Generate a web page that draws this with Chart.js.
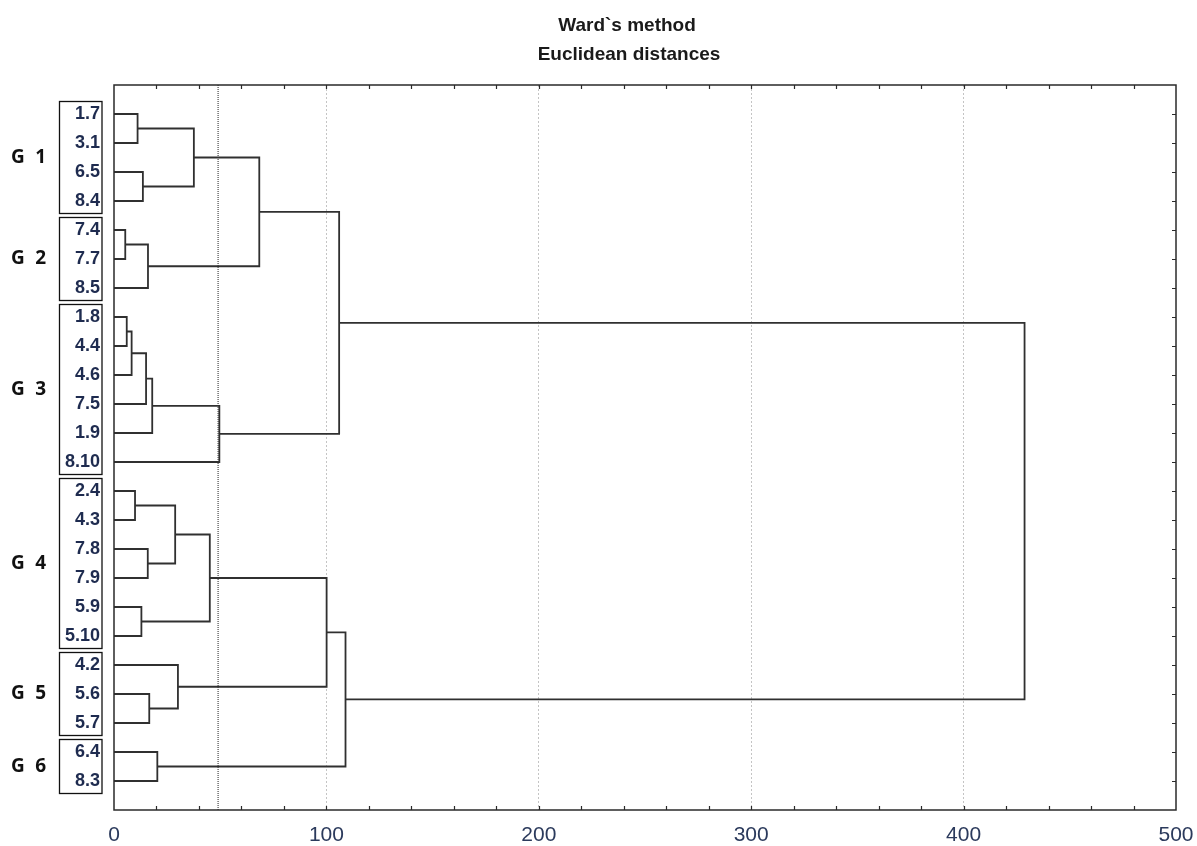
<!DOCTYPE html>
<html><head><meta charset="utf-8">
<script src="https://cdn.jsdelivr.net/npm/chart.js@4.4.1/dist/chart.umd.min.js"></script>
<style>html,body{margin:0;padding:0;background:#fff}#wrap{width:1197px;height:846px}</style>
</head><body><div id="wrap"><canvas id="c" width="1197" height="846"></canvas></div>
<script>
// ---- data ----
const titleLines = ["Ward`s method", "Euclidean distances"];
const leaves = ["1.7","3.1","6.5","8.4","7.4","7.7","8.5","1.8","4.4","4.6","7.5","1.9","8.10",
                "2.4","4.3","7.8","7.9","5.9","5.10","4.2","5.6","5.7","6.4","8.3"];
// linkage: node ids 0..23 are leaves, 24+k is the k-th merge
const linkA      = [4, 7, 25, 13, 0, 17, 2, 26, 24, 15, 20, 31, 22, 27, 19, 28, 37, 35, 39, 40, 42, 43, 44];
const linkB      = [5, 8, 9, 14, 1, 18, 3, 10, 6, 16, 21, 11, 23, 33, 34, 30, 29, 12, 32, 38, 41, 36, 45];
const linkHeight = [5.3, 6.0, 8.3, 9.9, 11.1, 12.9, 13.6, 15.1, 16.0, 15.9, 16.6, 18.0, 20.4, 28.8, 30.1, 37.6, 45.1, 49.6, 68.4, 100.1, 106.0, 109.0, 428.7];
const groupNames = ["G 1","G 2","G 3","G 4","G 5","G 6"];
const groupFirst = [0, 4, 7, 13, 19, 22];
const groupLast  = [3, 6, 12, 18, 21, 23];
const cutLevel = 49;
const xMin = 0, xMax = 500, xMajorStep = 100, xMinorStep = 20;

// ---- build tree segments ----
const nodeX = leaves.map(() => 0);
const nodeY = leaves.map((_, i) => i);
const lineColor = '#303030';
const datasets = [];
for (let k = 0; k < linkA.length; k++) {
  const a = linkA[k], b = linkB[k], h = linkHeight[k];
  datasets.push({
    data: [{x: nodeX[a], y: nodeY[a]}, {x: h, y: nodeY[a]}, {x: h, y: nodeY[b]}, {x: nodeX[b], y: nodeY[b]}],
    borderColor: lineColor, borderWidth: 1.8, pointRadius: 0, showLine: true, fill: false, tension: 0
  });
  nodeX.push(h);
  nodeY.push((nodeY[a] + nodeY[b]) / 2);
}
const yMin = -1, yMax = leaves.length;
datasets.push({
  data: [{x: cutLevel, y: yMin}, {x: cutLevel, y: yMax}],
  borderColor: '#222', borderWidth: 1, borderDash: [1, 1], pointRadius: 0, showLine: true, fill: false
});

const FONT = '"Liberation Sans", Arial, sans-serif';

const decor = {
  id: 'decor',
  afterDraw(chart) {
    const ctx = chart.ctx, ca = chart.chartArea;
    const xs = chart.scales.x, ys = chart.scales.y;
    ctx.save();
    // frame
    ctx.strokeStyle = '#2a2a2a'; ctx.lineWidth = 1.5;
    ctx.strokeRect(ca.left, ca.top, ca.right - ca.left, ca.bottom - ca.top);
    // minor ticks top/bottom (inward)
    ctx.lineWidth = 1.2;
    ctx.beginPath();
    for (let v = xMin + xMinorStep; v < xMax; v += xMinorStep) {
      const px = Math.round(xs.getPixelForValue(v)) + 0.5;
      ctx.moveTo(px, ca.top); ctx.lineTo(px, ca.top + 4);
      ctx.moveTo(px, ca.bottom); ctx.lineTo(px, ca.bottom - 4);
    }
    // right ticks at leaves
    leaves.forEach((_, i) => {
      const py = Math.round(ys.getPixelForValue(i)) + 0.5;
      ctx.moveTo(ca.right, py); ctx.lineTo(ca.right - 4, py);
    });
    ctx.stroke();
    // group boxes and labels
    ctx.strokeStyle = '#111'; ctx.lineWidth = 1.3;
    ctx.fillStyle = '#111';
    ctx.font = 'bold 19px "Open Sans", "Noto Sans", sans-serif';
    ctx.textBaseline = 'middle';
    groupNames.forEach((g, i) => {
      const t = ys.getPixelForValue(groupFirst[i] - 0.45);
      const b = ys.getPixelForValue(groupLast[i] + 0.42);
      ctx.strokeRect(59.5, Math.round(t) + 0.5, 42.5, Math.round(b - t));
      const cy = ys.getPixelForValue((groupFirst[i] + groupLast[i]) / 2);
      const parts = g.split(' ');
      ctx.textAlign = 'left'; ctx.fillText(parts[0], 11, cy);
      ctx.textAlign = 'right'; ctx.fillText(parts[1], 46, cy);
    });
    // titles
    ctx.fillStyle = '#1a1a1a';
    ctx.font = 'bold 19px ' + FONT;
    ctx.textAlign = 'center'; ctx.textBaseline = 'alphabetic';
    ctx.fillText(titleLines[0], 627, 31);
    ctx.fillText(titleLines[1], 629, 60);
    ctx.restore();
  }
};

new Chart(document.getElementById('c'), {
  type: 'scatter',
  data: { datasets },
  options: {
    responsive: false, animation: false,
    layout: { padding: { top: 85, right: 21, left: 0, bottom: 0 } },
    plugins: { legend: { display: false }, tooltip: { enabled: false }, title: { display: false } },
    scales: {
      x: {
        type: 'linear', min: xMin, max: xMax,
        ticks: { stepSize: xMajorStep, color: '#2b3a5c', font: { family: FONT, size: 21 }, padding: 13,
                 maxRotation: 0, callback: v => v },
        grid: { drawTicks: false, lineWidth: 1,
                color: c => (c.tick && c.tick.value > xMin && c.tick.value < xMax) ? '#c4c4c4' : 'rgba(0,0,0,0)' },
        border: { display: false, dash: [2, 2] },
        afterFit: s => { s.height = 36; s.paddingLeft = 0; s.paddingRight = 0; }
      },
      y: {
        type: 'linear', reverse: true, min: yMin, max: yMax,
        afterBuildTicks: s => { s.ticks = leaves.map((_, i) => ({ value: i })); },
        ticks: { autoSkip: false, color: '#1e2b4f', font: { family: FONT, size: 18, weight: 'bold' }, padding: 14,
                 callback: v => leaves[v] },
        grid: { display: false, drawTicks: false },
        border: { display: false },
        afterFit: s => { s.width = 114; s.paddingTop = 0; s.paddingBottom = 0; }
      }
    }
  },
  plugins: [decor]
});
</script>
</body></html>
